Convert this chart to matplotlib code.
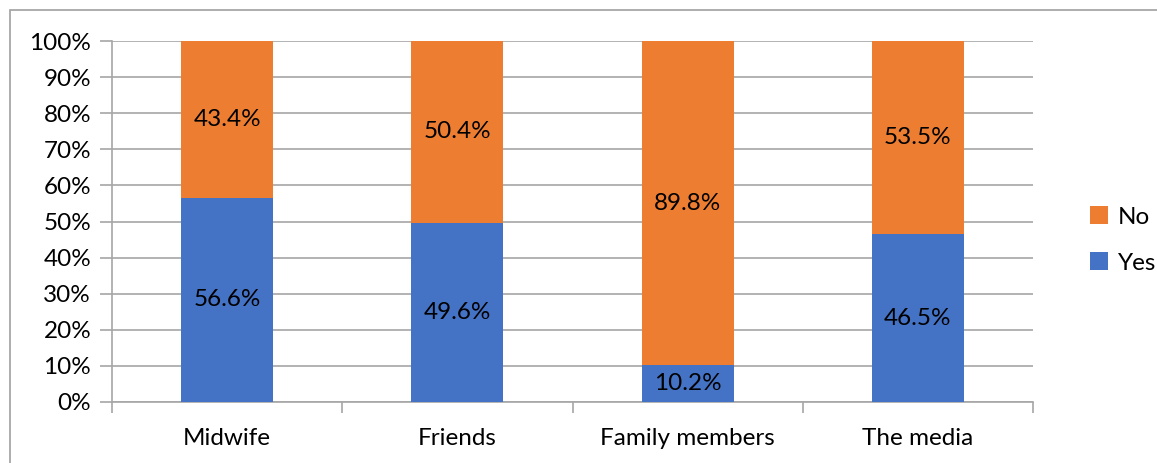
import numpy as np
import matplotlib.pyplot as plt
from matplotlib.patches import Rectangle

plt.rcParams['font.family'] = ['Lato', 'DejaVu Sans']

categories = ['Midwife', 'Friends', 'Family members', 'The media']
yes_pct = [56.6, 49.6, 10.2, 46.5]
no_pct = [43.4, 50.4, 89.8, 53.5]

blue = '#4472C4'
orange = '#ED7D31'
grid_col = '#A6A6A6'
fs = 17.5

fig = plt.figure(figsize=(11.57, 4.63), dpi=100)
ax = fig.add_axes([112 / 1157, 1 - 402 / 463, 921 / 1157, 361 / 463])

# outer chart frame
fig.patches.append(Rectangle((10 / 1157, -0.1), 1.2, 1 - 10 / 463 + 0.1,
                             transform=fig.transFigure, fill=False,
                             edgecolor='#A0A0A0', lw=1.2))

x = np.arange(len(categories))
b_yes = ax.bar(x, yes_pct, width=0.4, color=blue, label='Yes', zorder=3)
b_no = ax.bar(x, no_pct, width=0.4, bottom=yes_pct, color=orange, label='No', zorder=3)

for rect, v in zip(b_yes, yes_pct):
    ax.text(rect.get_x() + rect.get_width() / 2, v / 2, f'{v:.1f}%',
            ha='center', va='center', fontsize=fs, zorder=4)
for rect, base, v in zip(b_no, yes_pct, no_pct):
    ax.text(rect.get_x() + rect.get_width() / 2, base + v / 2, f'{v:.1f}%',
            ha='center', va='center', fontsize=fs, zorder=4)

ax.set_xlim(-0.5, len(categories) - 0.5)
ax.set_ylim(0, 100)
ax.set_yticks(np.arange(0, 101, 10))
ax.set_yticklabels([f'{t}%' for t in range(0, 101, 10)], fontsize=fs)
ax.yaxis.grid(True, color=grid_col, lw=1.2, zorder=0)
ax.tick_params(axis='y', length=9, color=grid_col, width=1.2, pad=6)

ax.set_xticks(np.arange(-0.5, len(categories)), minor=False)
ax.set_xticklabels([])
ax.set_xticks(x, minor=True)
ax.set_xticklabels(categories, minor=True, fontsize=fs)
ax.tick_params(axis='x', which='major', length=8, color=grid_col, width=1.2)
ax.tick_params(axis='x', which='minor', length=0, pad=19)

for s in ['top', 'right']:
    ax.spines[s].set_visible(False)
for s in ['left', 'bottom']:
    ax.spines[s].set_color(grid_col)
    ax.spines[s].set_linewidth(1.2)

handles, labels = ax.get_legend_handles_labels()
fig.legend(handles[::-1], labels[::-1], loc='center left',
           bbox_to_anchor=(1068 / 1157, 1 - 240 / 463), frameon=False,
           fontsize=fs, handlelength=0.75, handleheight=0.75,
           handletextpad=0.4, labelspacing=1.0)

fig.savefig('out.png', dpi=100)
